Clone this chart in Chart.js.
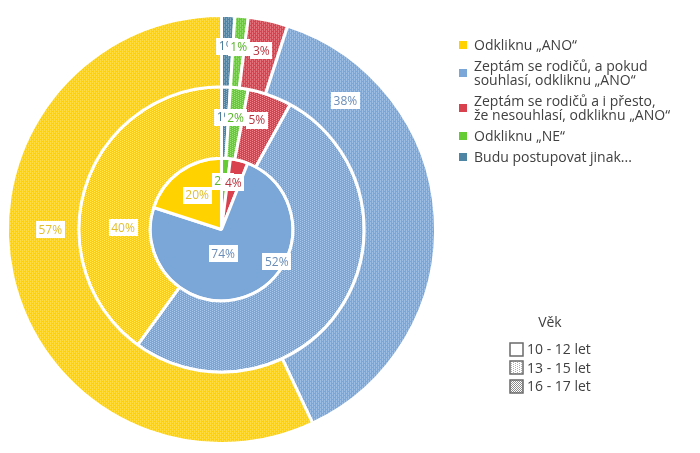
<!DOCTYPE html>
<html>
<head>
<meta charset="utf-8">
<script src="https://cdn.jsdelivr.net/npm/chart.js@4.4.1/dist/chart.umd.min.js"></script>
<style>
  html, body { margin: 0; padding: 0; background: #fff; }
  #wrap { position: relative; width: 700px; height: 453px; overflow: hidden; }
  #chart { position: absolute; left: 0; top: 0; }
  .legend { position: absolute; font-family: "Open Sans", sans-serif; color: #404040; }
  #catLegend { left: 459px; top: 38px; width: 241px; font-size: 14px; line-height: 14px; }
  #catLegend .item { display: flex; align-items: center; margin-bottom: 7px; white-space: nowrap; }
  #catLegend .sw { width: 8px; height: 8px; flex: none; margin-right: 7px; }
  #ageLegend { left: 509px; top: 313px; font-size: 14px; line-height: 18px; }
  #ageLegend .title { text-align: center; padding-left: 0; margin-bottom: 9px; }
  #ageLegend .item { display: flex; align-items: center; height: 18.5px; }
  #ageLegend canvas { margin-right: 3px; }
</style>
</head>
<body>
<div id="wrap">
  <canvas id="chart" width="700" height="453"></canvas>
  <div id="catLegend" class="legend"></div>
  <div id="ageLegend" class="legend"></div>
</div>
<script>
// clockwise from 12 o'clock
const categories = [
    'Budu postupovat jinak...',
    'Odkliknu „NE“',
    'Zeptám se rodičů a i přesto,<br>že nesouhlasí, odkliknu „ANO“',
    'Zeptám se rodičů, a pokud<br>souhlasí, odkliknu „ANO“',
    'Odkliknu „ANO“'
];
const ageGroups = ['10 - 12 let', '13 - 15 let', '16 - 17 let'];

const values1012 = [0, 2, 4, 74, 20];
const values1315 = [1, 2, 5, 52, 40];
const values1617 = [1, 1, 3, 38, 57];

const fillColors = ['#4E85A5', '#66CC33', '#D8414D', '#7BA6D8', '#FFD200'];
const labelColors = ['#47799A', '#58B52A', '#B8343F', '#6A8DB8', '#E2BE2C'];

// where each data label sits inside its slice: [share of the arc's sweep, share of the ring's width]
const labelSpots = [
    [[0.5, 0.56], [0.5, 0.56], [0.5, 0.56], [0.19, 0.5], [0.56, 0.4]],
    [[0.5, 0.57], [0.5, 0.57], [0.4, 0.6], [0.49, -0.1], [0.38, 0.38]],
    [[0.5, 0.6], [0.2, 0.67], [0.5, 0.67], [0.58, 0.35], [0.5, 0.58]]
];

const canvas = document.getElementById('chart');
const ctx = canvas.getContext('2d');

// kind 0 = solid, 1 = light dotted (13-15), 2 = dense dashes (16-17)
function makePattern(color, kind) {
    if (kind === 0) return color;
    const c = document.createElement('canvas');
    c.width = 4; c.height = 4;
    const x = c.getContext('2d');
    x.fillStyle = color;
    x.fillRect(0, 0, 4, 4);
    if (kind === 1) {
        x.fillStyle = 'rgba(255,255,255,0.38)';
        x.fillRect(0, 0, 1, 1);
        x.fillRect(0, 2, 1, 1);
        x.fillRect(2, 1, 1, 1);
        x.fillRect(2, 3, 1, 1);
    } else {
        x.fillStyle = 'rgba(255,255,255,0.26)';
        x.fillRect(0, 0, 1, 3);
        x.fillRect(2, 2, 1, 2);
        x.fillRect(2, 0, 1, 1);
    }
    return ctx.createPattern(c, 'repeat');
}

const sliceLabels = {
    id: 'sliceLabels',
    afterDatasetsDraw(chart) {
        const c = chart.ctx;
        c.save();
        c.font = '12px "Open Sans", sans-serif';
        c.textAlign = 'center';
        c.textBaseline = 'middle';
        chart.data.datasets.forEach((ds, di) => {
            const meta = chart.getDatasetMeta(di);
            meta.data.forEach((arc, i) => {
                const v = ds.data[i];
                if (!v) return;
                const p = arc.getProps(['x', 'y', 'startAngle', 'endAngle', 'innerRadius', 'outerRadius'], true);
                const spot = labelSpots[di][i];
                const a = p.startAngle + (p.endAngle - p.startAngle) * spot[0];
                const r = p.innerRadius + (p.outerRadius - p.innerRadius) * spot[1];
                const px = p.x + Math.cos(a) * r;
                const py = p.y + Math.sin(a) * r;
                const t = v + '%';
                const w = c.measureText(t).width + 5;
                c.fillStyle = '#fff';
                c.fillRect(Math.round(px - w / 2), Math.round(py - 9), Math.round(w), 17);
                c.fillStyle = labelColors[i];
                c.fillText(t, px, py);
            });
        });
        c.restore();
    }
};

new Chart(ctx, {
    type: 'doughnut',
    data: {
        labels: categories,
        datasets: [
            { label: ageGroups[2], data: values1617, backgroundColor: fillColors.map(col => makePattern(col, 2)) },
            { label: ageGroups[1], data: values1315, backgroundColor: fillColors.map(col => makePattern(col, 1)) },
            { label: ageGroups[0], data: values1012, backgroundColor: fillColors.map(col => makePattern(col, 0)) }
        ]
    },
    options: {
        responsive: false,
        animation: false,
        cutout: 0,
        borderColor: '#fff',
        borderWidth: 3,
        layout: { padding: { left: 6, top: 14, right: 263, bottom: 8 } },
        plugins: {
            legend: { display: false },
            tooltip: { enabled: false }
        }
    },
    plugins: [sliceLabels]
});

// category legend, top to bottom in reverse slice order
const catLegend = document.getElementById('catLegend');
categories.slice().reverse().forEach((name, k) => {
    const i = categories.length - 1 - k;
    const row = document.createElement('div');
    row.className = 'item';
    row.innerHTML = `<span class="sw" style="background:${fillColors[i]}"></span><span>${name}</span>`;
    catLegend.appendChild(row);
});

// age legend with pattern swatches
const ageLegend = document.getElementById('ageLegend');
ageLegend.innerHTML = '<div class="title">Věk</div>';
ageGroups.forEach((g, k) => {
    const row = document.createElement('div');
    row.className = 'item';
    const sw = document.createElement('canvas');
    sw.width = 15; sw.height = 15;
    const sctx = sw.getContext('2d');
    const c = document.createElement('canvas');
    c.width = 4; c.height = 4;
    const x = c.getContext('2d');
    x.fillStyle = '#fff';
    x.fillRect(0, 0, 4, 4);
    x.fillStyle = k === 2 ? '#8a8a8a' : '#b0b0b0';
    if (k === 1) { x.fillRect(0, 0, 1, 1); x.fillRect(0, 2, 1, 1); x.fillRect(2, 1, 1, 1); x.fillRect(2, 3, 1, 1); }
    if (k === 2) { x.fillRect(0, 0, 1, 1); x.fillRect(2, 0, 1, 1); x.fillRect(1, 1, 1, 1); x.fillRect(3, 1, 1, 1); x.fillRect(0, 2, 1, 1); x.fillRect(2, 2, 1, 1); x.fillRect(1, 3, 1, 1); x.fillRect(3, 3, 1, 1); }
    sctx.fillStyle = sctx.createPattern(c, 'repeat');
    sctx.fillRect(1, 1, 13, 13);
    sctx.strokeStyle = '#6a6a6a';
    sctx.lineWidth = 1.5;
    sctx.strokeRect(1, 1, 13, 13);
    row.appendChild(sw);
    const label = document.createElement('span');
    label.textContent = g;
    row.appendChild(label);
    ageLegend.appendChild(row);
});
</script>
</body>
</html>
